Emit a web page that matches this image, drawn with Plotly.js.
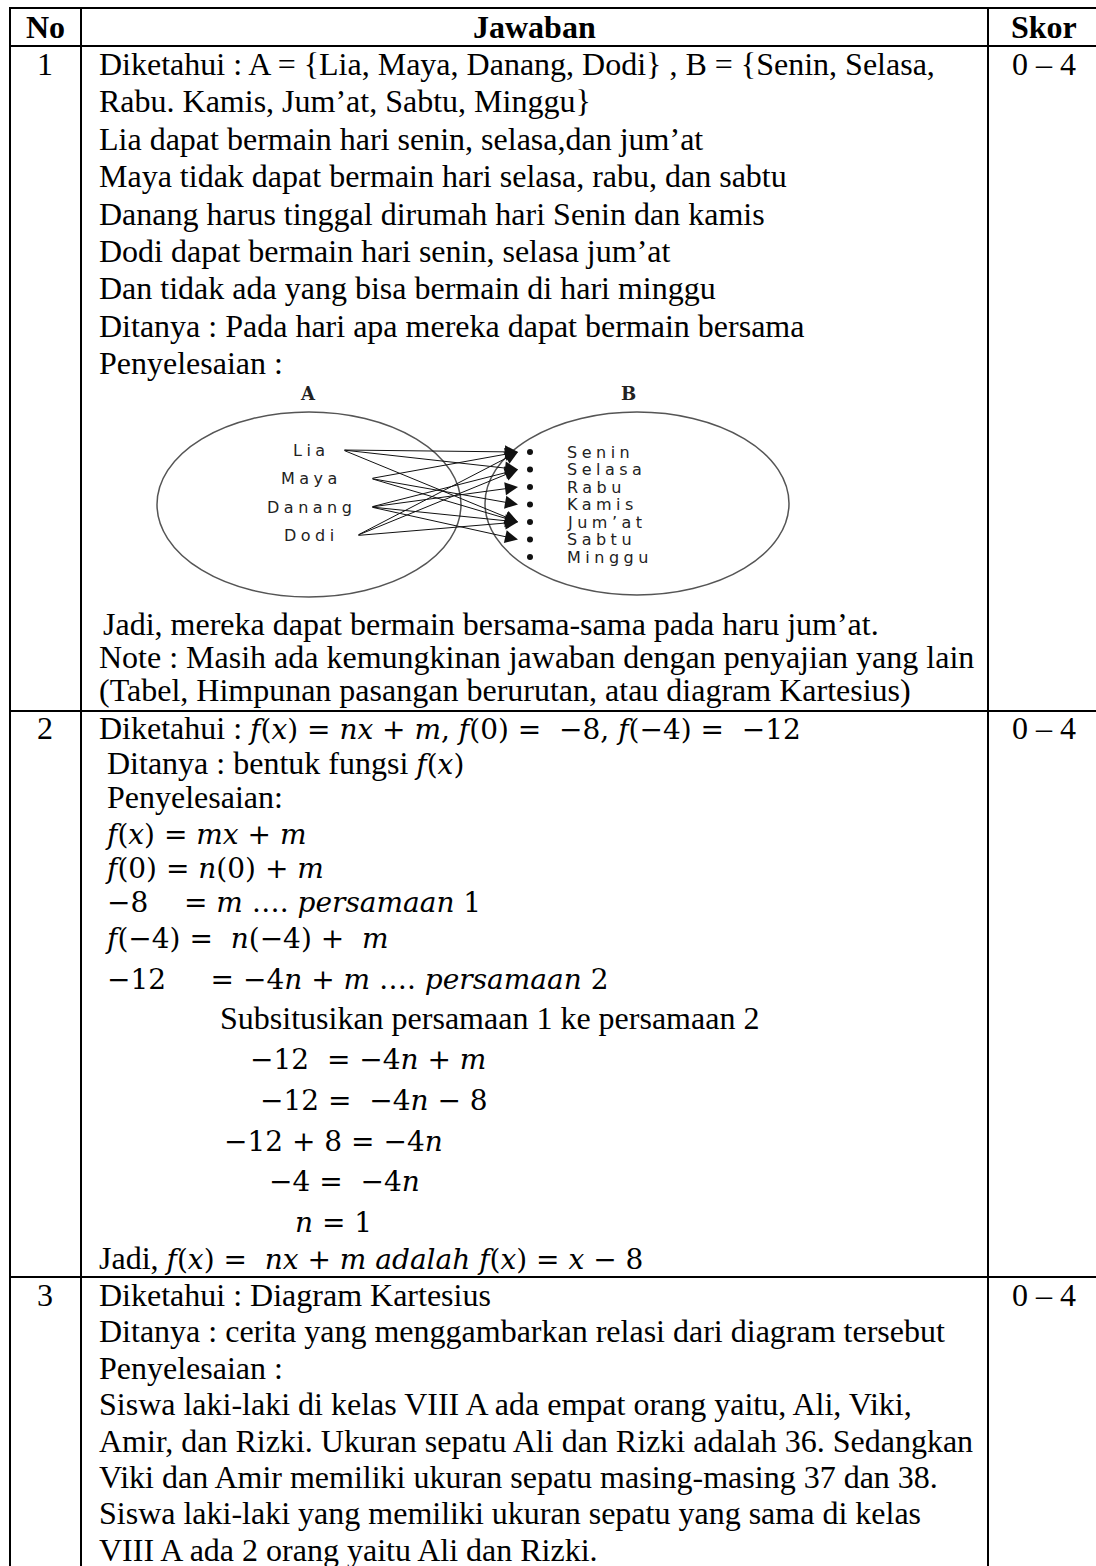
<!DOCTYPE html>
<html>
<head>
<meta charset="utf-8">
<script src="https://cdn.plot.ly/plotly-3.0.1.min.js"></script>
<style>
  html, body { margin: 0; padding: 0; background: #fff; }
  #table { width: 1096px; height: 1566px; }
</style>
</head>
<body>
<div id="table"></div>
<script>
// --- table content ---
const headers = ['No', 'Jawaban', 'Skor'];
const rowNumbers = ['1', '2', '3'];
const skorValues = ['0 – 4', '0 – 4', '0 – 4'];

// math bits are wrapped so they get the math font
const M = s => '<span style="font-family:\'DejaVu Serif\';font-size:28px">' + s + '</span>';
const sp = '\u00A0';

const row1Lines = [
    'Diketahui : A = {Lia, Maya, Danang, Dodi} , B = {Senin, Selasa,',
    'Rabu. Kamis, Jum’at, Sabtu, Minggu}',
    'Lia dapat bermain hari senin, selasa,dan jum’at',
    'Maya tidak dapat bermain hari selasa, rabu, dan sabtu',
    'Danang harus tinggal dirumah hari Senin dan kamis',
    'Dodi dapat bermain hari senin, selasa jum’at',
    'Dan tidak ada yang bisa bermain di hari minggu',
    'Ditanya : Pada hari apa mereka dapat bermain bersama',
    'Penyelesaian :'
];
const row1Closing = [
    'Jadi, mereka dapat bermain bersama-sama pada haru jum’at.',
    'Note : Masih ada kemungkinan jawaban dengan penyajian yang lain',
    '(Tabel, Himpunan pasangan berurutan, atau diagram Kartesius)'
];
const row2Lines = [
    'Diketahui : ' + M('<i>f</i>(<i>x</i>) = <i>nx</i> + <i>m</i>, <i>f</i>(0) =' + sp + sp + '−8, <i>f</i>(−4) =' + sp + sp + '−12'),
    sp + 'Ditanya : bentuk fungsi ' + M('<i>f</i>(<i>x</i>)'),
    sp + 'Penyelesaian:',
    sp + M('<i>f</i>(<i>x</i>) = <i>mx</i> + <i>m</i>'),
    sp + M('<i>f</i>(0) = <i>n</i>(0) + <i>m</i>'),
    sp + M('−8' + sp + sp + sp + ' = <i>m</i> …. <i>persamaan</i> 1'),
    sp + M('<i>f</i>(−4) =' + sp + sp + '<i>n</i>(−4) +' + sp + sp + '<i>m</i>'),
    sp + M('−12' + sp + sp + sp + sp + ' = −4<i>n</i> + <i>m</i> …. <i>persamaan</i> 2'),
    'Subsitusikan persamaan 1 ke persamaan 2',
    M('−12' + sp + ' = −4<i>n</i> + <i>m</i>'),
    M('−12 =' + sp + sp + '−4<i>n</i> − 8'),
    M('−12 + 8 = −4<i>n</i>'),
    M('−4 =' + sp + sp + '−4<i>n</i>'),
    M('<i>n</i> = 1'),
    'Jadi, ' + M('<i>f</i>(<i>x</i>) =' + sp + sp + '<i>nx</i> + <i>m adalah f</i>(<i>x</i>) = <i>x</i> − 8')
];
const row3Lines = [
    'Diketahui : Diagram Kartesius',
    'Ditanya : cerita yang menggambarkan relasi dari diagram tersebut',
    'Penyelesaian :',
    'Siswa laki-laki di kelas VIII A ada empat orang yaitu, Ali, Viki,',
    'Amir, dan Rizki. Ukuran sepatu Ali dan Rizki adalah 36. Sedangkan',
    'Viki dan Amir memiliki ukuran sepatu masing-masing 37 dan 38.',
    'Siswa laki-laki yang memiliki ukuran sepatu yang sama di kelas',
    'VIII A ada 2 orang yaitu Ali dan Rizki.'
];

// --- arrow diagram content ---
const setA = ['Lia', 'Maya', 'Danang', 'Dodi'];
const setB = ['Senin', 'Selasa', 'Rabu', 'Kamis', 'Jum’at', 'Sabtu', 'Minggu'];
const relations = [
    ['Lia', 'Senin'], ['Lia', 'Selasa'], ['Lia', 'Jum’at'],
    ['Maya', 'Senin'], ['Maya', 'Kamis'], ['Maya', 'Jum’at'],
    ['Danang', 'Selasa'], ['Danang', 'Rabu'], ['Danang', 'Jum’at'], ['Danang', 'Sabtu'],
    ['Dodi', 'Senin'], ['Dodi', 'Selasa'], ['Dodi', 'Jum’at']
];

// --- layout geometry (page pixels, y down) ---
const W = 1096, H = 1566;
const colLines = [10, 81, 988];
const rowLines = [8, 46, 711, 1277];
const noX = 45, skorX = 1044, textX = 97;
const FONT = 'Liberation Serif, Times New Roman, serif';

const row1Y = row1Lines.map((_, i) => 64 + 37.4 * i);
const closingY = [624, 657, 690];
const row2Y = [728, 763, 797, 833, 867, 901, 937, 978, 1018, 1059, 1100, 1141, 1181, 1222, 1258];
const row2X = [97, 97, 97, 97, 97, 97, 97, 97, 218, 248, 258, 222, 267, 293, 97];
const row3Y = row3Lines.map((_, i) => 1295 + 36.4 * i);

const aCenterX = 311, aY0 = 450, aStep = 28.5;
const bTextX = 565, bDotX = 530, bY0 = 452, bStep = 17.5, headX = 518;
const aTail = { Lia: 343, Maya: 371, Danang: 371, Dodi: 357 };

const shapes = [];
const annotations = [];

function line(x0, y0, x1, y1, w, c) {
    shapes.push({ type: 'line', xref: 'x', yref: 'y', x0, y0, x1, y1,
        line: { color: c || '#000', width: w || 2 } });
}
function txt(x, y, text, anchor, extra) {
    annotations.push(Object.assign({
        x, y, xref: 'x', yref: 'y', text, showarrow: false,
        xanchor: anchor || 'left', yanchor: 'middle',
        font: { family: FONT, size: 32, color: '#000' }
    }, extra || {}));
}

// table grid
colLines.forEach(x => line(x, rowLines[0] - 1, x, H + 5));
rowLines.forEach(y => line(colLines[0] - 1, y, W + 5, y));

// header
txt(noX, 27, '<b>' + headers[0] + '</b>', 'center');
txt((colLines[1] + colLines[2]) / 2, 27, '<b>' + headers[1] + '</b>', 'center');
txt(skorX, 27, '<b>' + headers[2] + '</b>', 'center');

// row numbers and scores
const firstY = [row1Y[0], row2Y[0], row3Y[0]];
rowNumbers.forEach((n, i) => txt(noX, firstY[i], n, 'center'));
skorValues.forEach((s, i) => txt(skorX, firstY[i], s, 'center'));

// row texts
row1Lines.forEach((t, i) => txt(textX, row1Y[i], t));
row1Closing.forEach((t, i) => txt(i === 0 ? textX + 4 : textX, closingY[i], t));
row2Lines.forEach((t, i) => txt(row2X[i], row2Y[i], t));
row3Lines.forEach((t, i) => txt(textX, row3Y[i], t));

// arrow diagram: the two sets
shapes.push({ type: 'circle', xref: 'x', yref: 'y', x0: 157, x1: 461, y0: 412, y1: 597,
    line: { color: '#555', width: 1.5 } });
shapes.push({ type: 'circle', xref: 'x', yref: 'y', x0: 485, x1: 789, y0: 412, y1: 595,
    line: { color: '#555', width: 1.5 } });
const setFont = { family: 'DejaVu Serif', size: 18, color: '#222' };
const wideSet = s => '<span style="letter-spacing:2px"><b>' + s + '</b></span>';
txt(308, 393, wideSet('A'), 'center', { font: setFont });
txt(629, 393, wideSet('B'), 'center', { font: setFont });

const labelFont = { family: 'DejaVu Sans', size: 16, color: '#222' };
const spread = s => '<span style="letter-spacing:4.5px">' + s + '</span>';
setA.forEach((a, i) => txt(aCenterX, aY0 + aStep * i, spread(a), 'center', { font: labelFont }));
setB.forEach((b, i) => txt(bTextX, bY0 + bStep * i, spread(b), 'left', { font: labelFont }));

relations.forEach(([a, b]) => {
    const ia = setA.indexOf(a), ib = setB.indexOf(b);
    annotations.push({
        x: headX, y: bY0 + bStep * ib, xref: 'x', yref: 'y',
        ax: aTail[a], ay: aY0 + aStep * ia, axref: 'x', ayref: 'y',
        text: '', showarrow: true, arrowhead: 2, arrowsize: 2.6, arrowwidth: 1,
        arrowcolor: '#111', standoff: 0, startstandoff: 0
    });
});

const dots = {
    x: setB.map(() => bDotX),
    y: setB.map((_, i) => bY0 + bStep * i),
    mode: 'markers', type: 'scatter', hoverinfo: 'skip',
    marker: { size: 6, color: '#111' }
};

const layout = {
    width: W, height: H,
    margin: { t: 0, b: 0, l: 0, r: 0 },
    paper_bgcolor: '#fff', plot_bgcolor: '#fff',
    showlegend: false,
    xaxis: { range: [0, W], visible: false, fixedrange: true },
    yaxis: { range: [H, 0], visible: false, fixedrange: true },
    shapes, annotations
};

Plotly.newPlot('table', [dots], layout, { staticPlot: true, displayModeBar: false });
</script>
</body>
</html>
